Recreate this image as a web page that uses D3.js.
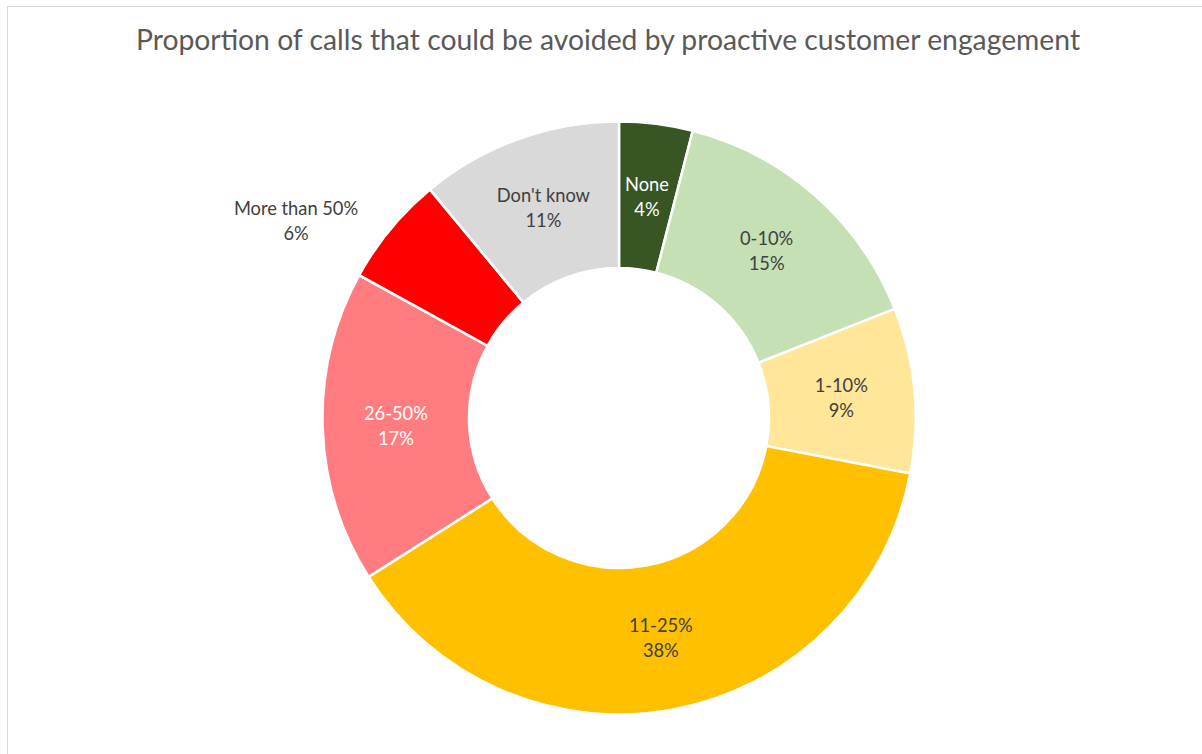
<!DOCTYPE html>
<html>
<head>
<meta charset="utf-8">
<script src="https://cdn.jsdelivr.net/npm/d3@7"></script>
<style>
html,body{margin:0;padding:0;background:#fff;}
svg{display:block;}
</style>
</head>
<body>
<svg id="chart" width="1202" height="754"></svg>
<script>
const categories = ["None", "0-10%", "1-10%", "11-25%", "26-50%", "More than 50%", "Don't know"];
const values = [4, 15, 9, 38, 17, 6, 11];
const colors = ["#375623", "#C5E0B4", "#FFE699", "#FFC000", "#FF7C80", "#FF0000", "#D9D9D9"];
const labelColors = ["#FFFFFF", "#404040", "#404040", "#404040", "#FFFFFF", "#404040", "#404040"];
const title = "Proportion of calls that could be avoided by proactive customer engagement";

const svg = d3.select("#chart");
const W = 1202, H = 754;
const font = "Lato, 'Open Sans', sans-serif";

// frame
svg.append("rect").attr("x", 7.5).attr("y", 6.5).attr("width", W + 10).attr("height", H + 10)
  .attr("fill", "#fff").attr("stroke", "#D9D9D9").attr("stroke-width", 1);

svg.append("text").attr("x", 608).attr("y", 50).attr("text-anchor", "middle")
  .attr("font-family", font).attr("font-size", 28.3).attr("fill", "#595959")
  .text(title);

const cx = 619, cy = 418, R = 296.5, r = 150;
const data = categories.map((c, i) => ({cat: c, value: values[i], color: colors[i], lc: labelColors[i]}));
const pie = d3.pie().value(d => d.value).sort(null);
const arcs = pie(data);
const arc = d3.arc().innerRadius(r).outerRadius(R);
const labelArc = d3.arc().innerRadius((R + r) / 2).outerRadius((R + r) / 2);

const g = svg.append("g").attr("transform", `translate(${cx},${cy})`);
g.selectAll("path").data(arcs).join("path")
  .attr("d", arc).attr("fill", d => d.data.color)
  .attr("stroke", "#fff").attr("stroke-width", 2.5).attr("stroke-linejoin", "miter");

const fmt = d3.format(".0%");
const total = d3.sum(values);
arcs.forEach(a => {
  let [x, y] = labelArc.centroid(a);
  if (a.data.cat === "More than 50%") {
    x = 296 - cx; y = 220 - cy;
  }
  const t = g.append("text").attr("text-anchor", "middle")
    .attr("font-family", font).attr("font-size", 18.3).attr("fill", a.data.lc);
  t.append("tspan").attr("x", x).attr("y", y - 5.5).text(a.data.cat);
  t.append("tspan").attr("x", x).attr("y", y + 19.5).text(fmt(a.data.value / total));
});
</script>
</body>
</html>
